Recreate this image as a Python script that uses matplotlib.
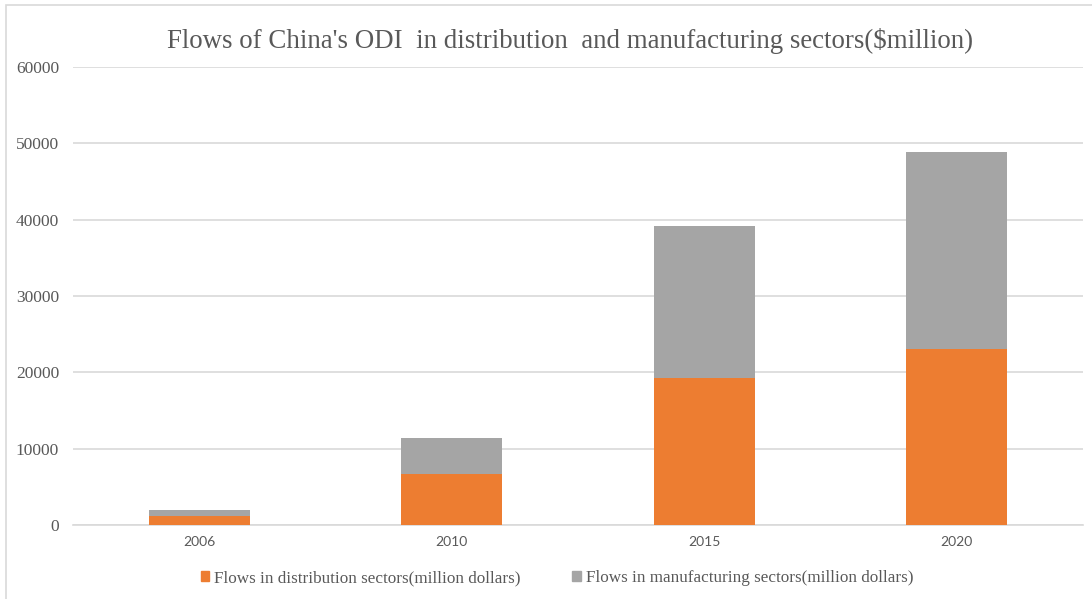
import numpy as np
import matplotlib.pyplot as plt
from matplotlib.patches import Patch, Rectangle

# ODI flows by year, million US dollars
years = ["2006", "2010", "2015", "2020"]
distribution = [1114, 6729, 19218, 22998]
manufacturing = [907, 4664, 19986, 25838]

orange = "#ED7D31"
grey = "#A5A5A5"
grid_col = "#D9D9D9"
text_col = "#595959"
serif = ["Liberation Serif", "DejaVu Serif"]

fig = plt.figure(figsize=(10.92, 5.99), dpi=100)
ax = fig.add_axes([73 / 1092, 74 / 599, 1010 / 1092, 458 / 599])

x = np.arange(len(years))
ax.bar(x, distribution, width=0.4, color=orange, zorder=3)
ax.bar(x, manufacturing, width=0.4, bottom=distribution, color=grey, zorder=3)

ax.set_xlim(-0.5, len(years) - 0.5)
ax.set_ylim(0, 60000)
ax.set_yticks(np.arange(0, 60001, 10000))
ax.set_xticks(x)
ax.set_xticklabels(years, family=["Lato", "DejaVu Sans"], fontsize=10, color=text_col)
for lab in ax.get_yticklabels():
    lab.set_family(serif)
    lab.set_fontsize(12.5)
    lab.set_color(text_col)
ax.tick_params(length=0)
ax.tick_params(axis="y", pad=10)
ax.tick_params(axis="x", pad=8)
ax.yaxis.grid(True, color=grid_col, linewidth=1.2, zorder=0)
for side in ["left", "right", "top"]:
    ax.spines[side].set_visible(False)
ax.spines["bottom"].set_color(grid_col)
ax.spines["bottom"].set_linewidth(1.2)

fig.text(570 / 1092, 1 - 41 / 599,
         "Flows of China's ODI  in distribution  and manufacturing sectors($million)",
         family=serif, fontsize=19.4, color=text_col, ha="center", va="center")

handles = [Patch(color=orange), Patch(color=grey)]
labels = ["Flows in distribution sectors(million dollars)",
          "Flows in manufacturing sectors(million dollars)"]
fig.legend(handles, labels, loc="center", bbox_to_anchor=(557 / 1092, 1 - 578 / 599),
           ncol=2, frameon=False, handlelength=0.5, handleheight=0.5,
           handletextpad=0.3, columnspacing=3.0,
           prop={"family": serif, "size": 12.3}, labelcolor=text_col)

# light chart-area border
fig.add_artist(Rectangle((6 / 1092, -0.1), 1.2, 1 - 5 / 599 + 0.1,
                         transform=fig.transFigure, fill=False,
                         edgecolor=grid_col, linewidth=1.2))

fig.savefig("out.png", dpi=100)
